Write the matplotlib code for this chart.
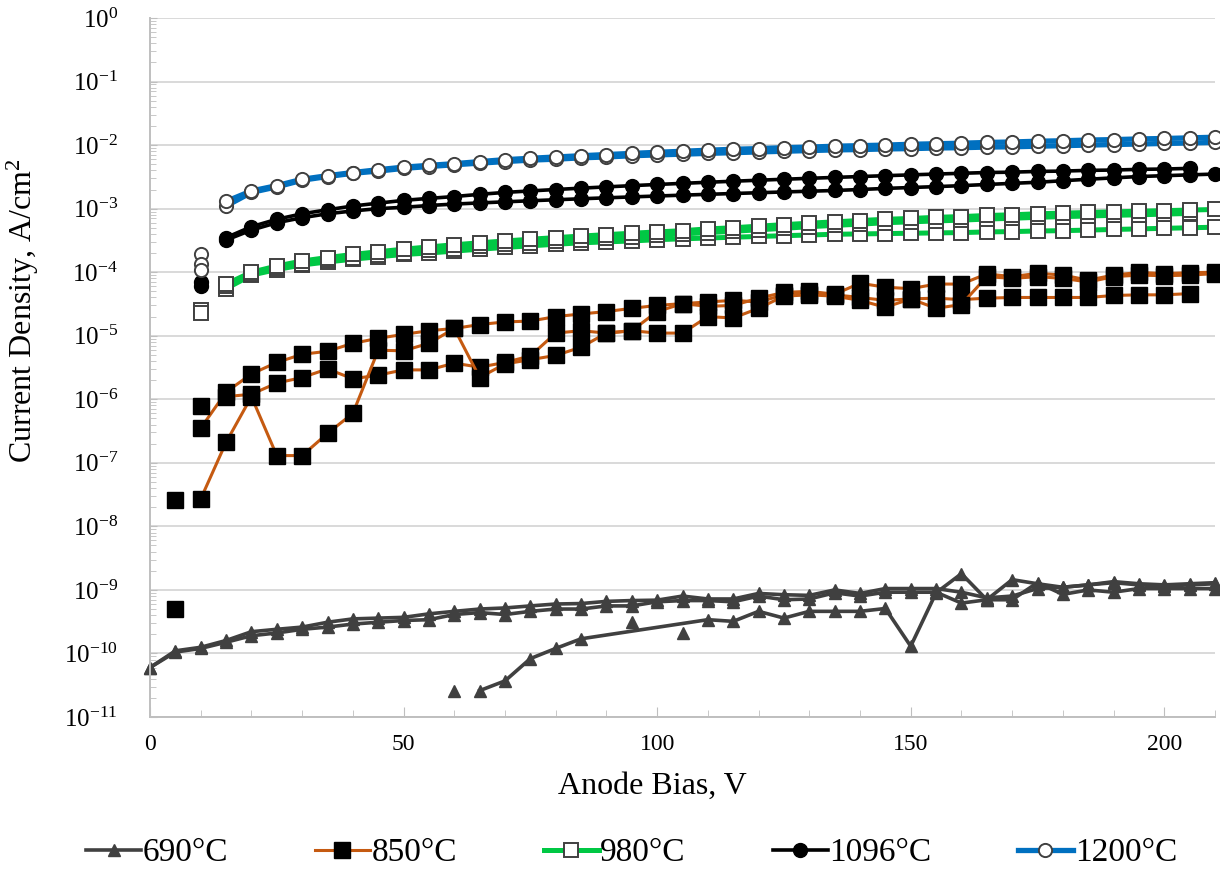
import matplotlib
matplotlib.use("Agg")
import matplotlib.pyplot as plt
from matplotlib.ticker import LogLocator, MultipleLocator, NullFormatter
from matplotlib.lines import Line2D

plt.rcParams['font.family'] = ['Liberation Serif', 'DejaVu Serif']
plt.rcParams['mathtext.fontset'] = 'custom'
plt.rcParams['mathtext.rm'] = 'Liberation Serif'
plt.rcParams['mathtext.it'] = 'Liberation Serif:italic'

# ---- data: anode bias (V) and current density (A/cm2), several runs per temperature ----
bias_0 = list(range(0, 215, 5))      # 0..210
bias_10 = list(range(10, 215, 5))    # 10..210
bias_15 = list(range(15, 215, 5))    # 15..210

j690_a = [6e-11, 1.1e-10, 1.25e-10, 1.6e-10, 2.2e-10, 2.4e-10, 2.6e-10, 3.1e-10, 3.5e-10, 3.6e-10, 3.7e-10,
          4.2e-10, 4.6e-10, 5.0e-10, 5.2e-10, 5.6e-10, 6.0e-10, 6.1e-10, 6.6e-10, 6.8e-10, 6.9e-10,
          8.0e-10, 7.2e-10, 7.2e-10, 8.8e-10, 8.4e-10, 8.2e-10, 1.0e-9, 8.8e-10, 1.05e-9, 1.05e-9,
          1.05e-9, 9.2e-10, 7.5e-10, 8.0e-10, 1.05e-9, 1.1e-9, 1.2e-9, 1.35e-9, 1.25e-9, 1.2e-9, 1.25e-9, 1.3e-9]
j690_b = [6e-11, 1.05e-10, 1.2e-10, 1.5e-10, 1.9e-10, 2.1e-10, 2.4e-10, 2.6e-10, 2.9e-10, 3.1e-10, 3.3e-10,
          3.4e-10, 4.1e-10, 4.4e-10, 4.1e-10, 4.6e-10, 5.0e-10, 5.0e-10, 5.6e-10, 5.6e-10, 6.5e-10,
          6.8e-10, 6.8e-10, 6.5e-10, 8.0e-10, 7.0e-10, 7.2e-10, 9.0e-10, 8.0e-10, 9.2e-10, 9.2e-10,
          9.2e-10, 6.2e-10, 7.0e-10, 7.0e-10, 1.3e-9, 8.5e-10, 1.0e-9, 9.2e-10, 1.05e-9, 1.05e-9, 1.05e-9, 1.05e-9]
bias_690_c = [65, 70, 75, 80, 85, 110, 115, 120, 125, 130, 135, 140, 145, 150, 155, 160, 165,
              170, 175, 180, 185, 190, 195, 200, 205, 210]
j690_c = [2.6e-11, 3.7e-11, 8.3e-11, 1.2e-10, 1.7e-10, 3.4e-10, 3.2e-10, 4.6e-10, 3.6e-10, 4.6e-10,
          4.6e-10, 4.6e-10, 5.1e-10, 1.3e-10, 9e-10, 1.8e-9, 7e-10, 1.45e-9, 1.25e-9, 1.1e-9,
          1.2e-9, 1.3e-9, 1.2e-9, 1.15e-9, 1.2e-9, 1.25e-9]
bias_690_pts = [60, 95, 105]
j690_pts = [2.6e-11, 3.1e-10, 2.1e-10]

j850_a = [3.5e-7, 1.3e-6, 2.5e-6, 3.8e-6, 5.1e-6, 5.7e-6, 7.6e-6, 9.1e-6, 1.05e-5, 1.2e-5,
          1.3e-5, 1.5e-5, 1.65e-5, 1.7e-5, 2.0e-5, 2.2e-5, 2.4e-5, 2.7e-5, 3.0e-5, 3.2e-5,
          3.4e-5, 3.6e-5, 3.4e-5, 4.4e-5, 4.6e-5, 4.4e-5, 4.0e-5, 3.6e-5, 3.8e-5, 3.9e-5,
          3.7e-5, 3.9e-5, 4.0e-5, 4.0e-5, 4.0e-5, 4.0e-5, 4.3e-5, 4.4e-5, 4.4e-5, 4.6e-5]   # 10..205
j850_b = [1.1e-6, 1.2e-6, 1.8e-6, 2.2e-6, 3.0e-6, 2.1e-6, 2.4e-6, 2.9e-6, 2.9e-6, 3.7e-6,
          3.2e-6, 3.8e-6, 4.8e-6, 1.1e-5, 1.2e-5, 1.1e-5, 1.2e-5, 2.4e-5, 3.2e-5, 2.9e-5,
          3.0e-5, 3.9e-5, 4.8e-5, 5.0e-5, 4.5e-5, 6.7e-5, 5.8e-5, 5.5e-5, 6.5e-5, 6.5e-5,
          9.4e-5, 8.5e-5, 9.6e-5, 9.0e-5, 7.5e-5, 9.0e-5, 9.9e-5, 9.5e-5, 9.8e-5, 1.0e-4]   # 15..210
j850_c = [2.7e-8, 2.1e-7, 1.1e-6, 1.3e-7, 1.3e-7, 2.9e-7, 6.0e-7, 5.9e-6, 5.8e-6, 7.6e-6, 1.3e-5,
          2.2e-6, 3.6e-6, 4.2e-6, 4.9e-6, 6.6e-6, 1.1e-5, 1.2e-5, 1.1e-5, 1.1e-5, 2.0e-5,
          1.9e-5, 2.7e-5, 4.2e-5, 4.4e-5, 4.2e-5, 3.6e-5, 2.8e-5, 3.8e-5, 2.7e-5, 3.1e-5,
          8.5e-5, 8.0e-5, 8.5e-5, 8.0e-5, 7.0e-5, 8.5e-5, 9.0e-5, 8.8e-5, 9.0e-5, 9.5e-5]   # 10..210
bias_850_pts = [5, 5, 10]
j850_pts = [2.6e-8, 5e-10, 7.8e-7]

j980_a = [6.5e-5, 1.0e-4, 1.25e-4, 1.5e-4, 1.7e-4, 1.9e-4, 2.1e-4, 2.3e-4, 2.5e-4, 2.7e-4,
          2.9e-4, 3.1e-4, 3.3e-4, 3.5e-4, 3.7e-4, 3.9e-4, 4.1e-4, 4.3e-4, 4.5e-4, 4.8e-4,
          5.0e-4, 5.3e-4, 5.6e-4, 5.9e-4, 6.2e-4, 6.5e-4, 6.8e-4, 7.0e-4, 7.3e-4, 7.5e-4,
          7.8e-4, 8.0e-4, 8.3e-4, 8.5e-4, 8.7e-4, 8.9e-4, 9.1e-4, 9.3e-4, 9.5e-4, 9.7e-4]
j980_b = [6.0e-5, 9.5e-5, 1.15e-4, 1.35e-4, 1.55e-4, 1.7e-4, 1.85e-4, 2.0e-4, 2.2e-4, 2.35e-4,
          2.55e-4, 2.75e-4, 2.9e-4, 3.1e-4, 3.25e-4, 3.4e-4, 3.6e-4, 3.8e-4, 4.0e-4, 4.2e-4,
          4.4e-4, 4.65e-4, 4.9e-4, 5.2e-4, 5.45e-4, 5.7e-4, 6.0e-4, 6.2e-4, 6.4e-4, 6.6e-4,
          6.85e-4, 7.05e-4, 7.3e-4, 7.5e-4, 7.65e-4, 7.85e-4, 8.0e-4, 8.2e-4, 8.4e-4]      # 15..205
j980_c = [5.5e-5, 9.0e-5, 1.1e-4, 1.3e-4, 1.45e-4, 1.6e-4, 1.75e-4, 1.9e-4, 2.0e-4, 2.15e-4,
          2.3e-4, 2.45e-4, 2.6e-4, 2.75e-4, 2.9e-4, 3.0e-4, 3.1e-4, 3.25e-4, 3.35e-4, 3.45e-4,
          3.55e-4, 3.65e-4, 3.75e-4, 3.85e-4, 3.95e-4, 4.0e-4, 4.05e-4, 4.1e-4, 4.15e-4, 4.2e-4,
          4.3e-4, 4.35e-4, 4.45e-4, 4.5e-4, 4.6e-4, 4.7e-4, 4.8e-4, 4.9e-4, 5.0e-4, 5.1e-4]
j980_pts = [2.5e-5, 2.3e-5]

j1096_a = [3.5e-4, 5.2e-4, 6.8e-4, 8.3e-4, 9.6e-4, 1.1e-3, 1.22e-3, 1.35e-3, 1.45e-3, 1.55e-3,
           1.68e-3, 1.8e-3, 1.9e-3, 2.0e-3, 2.1e-3, 2.2e-3, 2.3e-3, 2.4e-3, 2.5e-3, 2.6e-3,
           2.7e-3, 2.8e-3, 2.9e-3, 3.0e-3, 3.1e-3, 3.2e-3, 3.3e-3, 3.4e-3, 3.5e-3, 3.6e-3,
           3.7e-3, 3.75e-3, 3.85e-3, 3.9e-3, 4.0e-3, 4.05e-3, 4.15e-3, 4.2e-3, 4.3e-3]     # 15..205
j1096_b = [3.2e-4, 4.6e-4, 6.0e-4, 7.2e-4, 8.3e-4, 9.2e-4, 1.0e-3, 1.05e-3, 1.12e-3, 1.18e-3,
           1.23e-3, 1.28e-3, 1.33e-3, 1.38e-3, 1.43e-3, 1.48e-3, 1.53e-3, 1.58e-3, 1.63e-3, 1.68e-3,
           1.73e-3, 1.78e-3, 1.83e-3, 1.88e-3, 1.93e-3, 2.0e-3, 2.08e-3, 2.15e-3, 2.22e-3, 2.3e-3,
           2.4e-3, 2.5e-3, 2.6e-3, 2.75e-3, 2.9e-3, 3.05e-3, 3.2e-3, 3.3e-3, 3.4e-3, 3.5e-3]
j1096_pts = [7e-5, 6e-5]

j1200_a = [1.3e-3, 1.9e-3, 2.3e-3, 2.9e-3, 3.3e-3, 3.7e-3, 4.1e-3, 4.5e-3, 4.8e-3, 5.1e-3,
           5.5e-3, 5.9e-3, 6.2e-3, 6.5e-3, 6.8e-3, 7.1e-3, 7.4e-3, 7.7e-3, 8.0e-3, 8.3e-3,
           8.6e-3, 8.8e-3, 9.1e-3, 9.3e-3, 9.6e-3, 9.8e-3, 1.0e-2, 1.03e-2, 1.05e-2, 1.07e-2,
           1.1e-2, 1.12e-2, 1.15e-2, 1.17e-2, 1.2e-2, 1.22e-2, 1.25e-2, 1.27e-2, 1.3e-2, 1.33e-2]
j1200_b = [1.1e-3, 1.8e-3, 2.2e-3, 2.8e-3, 3.2e-3, 3.6e-3, 3.9e-3, 4.3e-3, 4.6e-3, 4.9e-3,
           5.2e-3, 5.5e-3, 5.8e-3, 6.0e-3, 6.3e-3, 6.5e-3, 6.8e-3, 7.0e-3, 7.2e-3, 7.4e-3,
           7.6e-3, 7.8e-3, 8.0e-3, 8.2e-3, 8.4e-3, 8.5e-3, 8.7e-3, 8.8e-3, 9.0e-3, 9.1e-3,
           9.3e-3, 9.4e-3, 9.6e-3, 9.8e-3, 1.0e-2, 1.02e-2, 1.04e-2, 1.06e-2, 1.08e-2, 1.1e-2]
j1200_pts = [1.9e-4, 1.35e-4, 1.1e-4]

labels = ['690°C', '850°C', '980°C', '1096°C', '1200°C']

# ---- styles ----
EDGE = '#404040'
sty = {
    '690°C': dict(color='#404040', lw=2.6, marker='^', ms=9, mfc='#404040', mec='#404040'),
    '850°C': dict(color='#C55A11', lw=2.2, marker='s', ms=11, mfc='black', mec='black'),
    '980°C': dict(color='#00C844', lw=3.6, marker='s', ms=10, mfc='white', mec=EDGE, mew=1.4),
    '1096°C': dict(color='black', lw=2.6, marker='o', ms=10, mfc='black', mec='black'),
    '1200°C': dict(color='#0070C0', lw=3.8, marker='o', ms=9.5, mfc='white', mec=EDGE, mew=1.4),
}

fig = plt.figure(figsize=(12.2, 8.71), dpi=100)
ax = fig.add_axes([150 / 1220, 154 / 871, 1065 / 1220, 699 / 871])

def curve(x, y, key, line=True):
    s = dict(sty[key])
    if not line:
        s['ls'] = 'none'
    ax.plot(x, y, clip_on=False, **s)

curve(bias_0, j690_a, '690°C')
curve(bias_0, j690_b, '690°C')
curve(bias_690_c, j690_c, '690°C')
curve(bias_690_pts, j690_pts, '690°C', line=False)

curve(bias_10[:-1], j850_a, '850°C')
curve(bias_15, j850_b, '850°C')
curve(bias_10, j850_c, '850°C')
curve(bias_850_pts, j850_pts, '850°C', line=False)

curve(bias_15, j980_c, '980°C')
curve(bias_15[:-1], j980_b, '980°C')
curve(bias_15, j980_a, '980°C')
curve([10, 10], j980_pts, '980°C', line=False)

curve(bias_15, j1096_b, '1096°C')
curve(bias_15[:-1], j1096_a, '1096°C')
curve([10, 10], j1096_pts, '1096°C', line=False)

curve(bias_15, j1200_b, '1200°C')
curve(bias_15, j1200_a, '1200°C')
curve([10, 10, 10], j1200_pts, '1200°C', line=False)

ax.set_yscale('log')
ax.set_ylim(1e-11, 1)
ax.set_xlim(0, 210)
ax.yaxis.set_major_locator(LogLocator(base=10, numticks=20))
ax.yaxis.set_minor_locator(LogLocator(base=10, subs=range(2, 10), numticks=20))
ax.yaxis.set_minor_formatter(NullFormatter())
ax.xaxis.set_major_locator(MultipleLocator(50))
ax.xaxis.set_minor_locator(MultipleLocator(10))

ax.yaxis.grid(True, which='major', color='#D9D9D9', lw=1.4)
ax.set_axisbelow(True)
for sp in ['top', 'right']:
    ax.spines[sp].set_visible(False)
for sp in ['left', 'bottom']:
    ax.spines[sp].set_color('#BFBFBF')
    ax.spines[sp].set_linewidth(1.4)

ax.tick_params(axis='both', which='both', direction='in', color='#BFBFBF')
ax.tick_params(axis='y', which='major', length=5, pad=23, labelsize=18)
ax.tick_params(axis='y', which='minor', length=4)
ax.tick_params(axis='x', which='major', length=7, pad=12, labelsize=17)
ax.tick_params(axis='x', which='minor', length=5)

ax.set_xlabel('Anode Bias, V', fontsize=23)
ax.xaxis.set_label_coords(0.472, -0.079)
ax.set_ylabel('Current Density, A/cm$^2$', fontsize=23)
ax.yaxis.set_label_coords(-0.102, 0.582)

handles = [Line2D([], [], **sty[k]) for k in labels]
fig.legend(handles, labels, loc='center', bbox_to_anchor=(0.5176, 0.0207), ncol=5, frameon=False,
           fontsize=24, handlelength=1.65, handletextpad=0.05, columnspacing=2.6)

fig.savefig('out.png', dpi=100)
